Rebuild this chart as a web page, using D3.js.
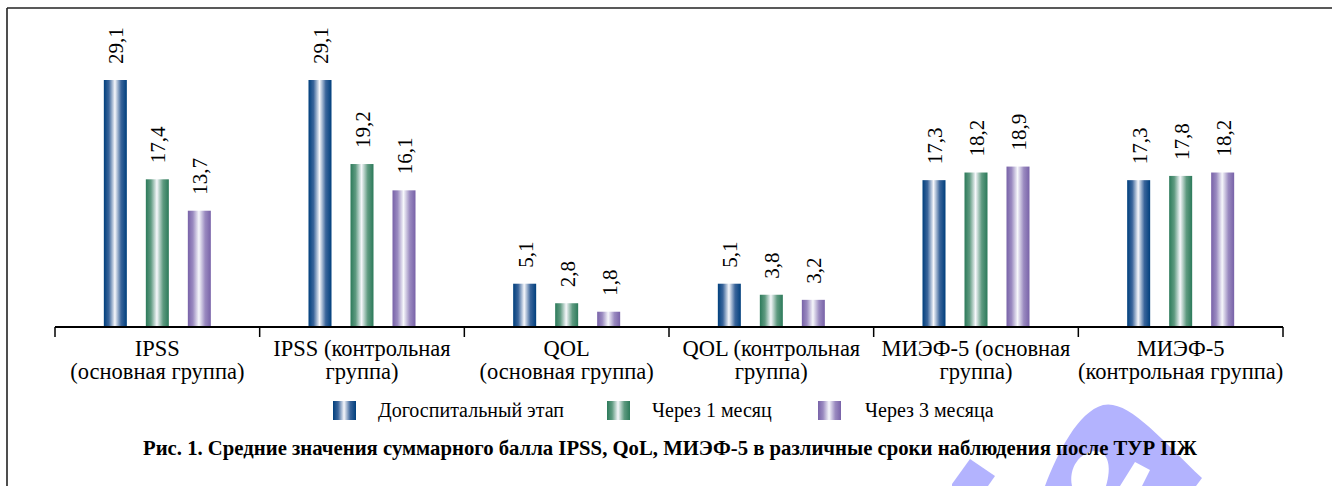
<!DOCTYPE html>
<html><head><meta charset="utf-8">
<script src="https://cdnjs.cloudflare.com/ajax/libs/d3/7.8.5/d3.min.js"></script>
<style>
html,body{margin:0;padding:0;background:#fff;}
svg{display:block;}
</style></head>
<body>
<script>
const categories = [
  ["IPSS", "(основная группа)"],
  ["IPSS (контрольная", "группа)"],
  ["QOL", "(основная группа)"],
  ["QOL (контрольная", "группа)"],
  ["МИЭФ-5 (основная", "группа)"],
  ["МИЭФ-5", "(контрольная группа)"]
];
const seriesNames = ["Догоспитальный этап", "Через 1 месяц", "Через 3 месяца"];
const preHospital = [29.1, 29.1, 5.1, 5.1, 17.3, 17.3];
const after1Month = [17.4, 19.2, 2.8, 3.8, 18.2, 17.8];
const after3Months = [13.7, 16.1, 1.8, 3.2, 18.9, 18.2];
const titleText = "Рис. 1. Средние значения суммарного балла IPSS, QoL, МИЭФ-5 в различные сроки наблюдения после ТУР ПЖ";

const series = [preHospital, after1Month, after3Months];
const edgeColors = ["#003f7d", "#2c7a5a", "#7862a8"];
const midColors = ["#3a659b", "#5e9a80", "#9a8ac0"];
const FONT = "'Liberation Serif', 'Times New Roman', Times, 'DejaVu Serif', serif";

const W = 1332, H = 486;
const svg = d3.select("body").append("svg").attr("width", W).attr("height", H)
  .attr("font-family", FONT).style("font-family", FONT);
const defs = svg.append("defs");
edgeColors.forEach((c, i) => {
  const g = defs.append("linearGradient").attr("id", "g" + i)
    .attr("x1", "0%").attr("x2", "100%").attr("y1", "0%").attr("y2", "0%");
  g.append("stop").attr("offset", "0%").attr("stop-color", c);
  g.append("stop").attr("offset", "22%").attr("stop-color", midColors[i]);
  g.append("stop").attr("offset", "48%").attr("stop-color", "#f6f7fb");
  g.append("stop").attr("offset", "75%").attr("stop-color", midColors[i]);
  g.append("stop").attr("offset", "100%").attr("stop-color", c);
});

// frame
svg.append("line").attr("x1", 7).attr("x2", 7).attr("y1", 8).attr("y2", H).attr("stroke", "#222").attr("stroke-width", 1.6);
svg.append("line").attr("x1", 7).attr("x2", W).attr("y1", 8).attr("y2", 8).attr("stroke", "#222").attr("stroke-width", 1.6);

// watermark
const wm = svg.append("g").attr("fill", "#b3b3fe");
wm.append("path").attr("d", "M952,486 L952,484 L970,459 L995,476 L988,486 Z");
wm.append("path").attr("d", "M1045,486 C1058,452 1078,412 1103,405 C1128,399 1160,438 1202,478 L1196,486 Z");
wm.append("path").attr("fill", "#fff").attr("d", "M1072,486 C1068,468 1080,452 1095,451 C1108,451 1112,466 1106,486 Z");
wm.append("path").attr("fill", "#fff").attr("d", "M1120,486 L1135,462 L1150,470 L1142,486 Z");

const x0 = d3.scaleBand().domain(d3.range(categories.length)).range([55, 1283]).padding(0);
const y = d3.scaleLinear().domain([0, 29.1]).range([327, 80]);
const barW = 23, step = 42;

const gBars = svg.append("g");
series.forEach((vals, si) => {
  gBars.selectAll(null).data(vals).enter().append("rect")
    .attr("x", (d, i) => x0(i) + x0.bandwidth() / 2 + (si - 1) * step - barW / 2)
    .attr("y", d => y(d))
    .attr("width", barW)
    .attr("height", d => y(0) - y(d))
    .attr("fill", `url(#g${si})`);
  gBars.selectAll(null).data(vals).enter().append("text")
    .attr("transform", (d, i) => {
      const cx = x0(i) + x0.bandwidth() / 2 + (si - 1) * step + 1;
      return `translate(${cx},${y(d) - 16}) rotate(-90)`;
    })
    .attr("dominant-baseline", "central")
    .attr("font-size", 21)
    .attr("fill", "#000")
    .text(d => d.toFixed(1).replace(".", ","));
});

// axis
const axis = d3.axisBottom(x0).tickSize(10).tickFormat("");
const gx = svg.append("g").attr("transform", "translate(0,327)").call(axis);
gx.select(".domain").attr("stroke", "#000").attr("stroke-width", 2).attr("d", "M55,0H1283");
gx.selectAll(".tick").remove();
const bounds = d3.range(categories.length + 1).map(i => i < categories.length ? x0(i) : x0(i - 1) + x0.bandwidth());
gx.selectAll(".bt").data(bounds).enter().append("line")
  .attr("x1", d => d).attr("x2", d => d).attr("y1", 0).attr("y2", 10)
  .attr("stroke", "#000").attr("stroke-width", 1.5);

// category labels
categories.forEach((lines, i) => {
  const cx = x0(i) + x0.bandwidth() / 2;
  lines.forEach((t, li) => {
    svg.append("text").attr("x", cx).attr("y", 356 + li * 23)
      .attr("text-anchor", "middle").attr("font-size", 22.5).attr("fill", "#000").text(t);
  });
});

// legend
const legX = [333, 607, 818];
seriesNames.forEach((n, i) => {
  svg.append("rect").attr("x", legX[i]).attr("y", 401).attr("width", 23).attr("height", 19).attr("fill", `url(#g${i})`);
  svg.append("text").attr("x", legX[i] + 45 + (i === 2 ? 2 : 0)).attr("y", 417)
    .attr("font-size", 20).attr("fill", "#000").text(n);
});

// title
svg.append("text").attr("x", 143).attr("y", 455)
  .attr("font-size", 21).attr("font-weight", "bold").attr("fill", "#000")
  .attr("textLength", 1054).attr("lengthAdjust", "spacingAndGlyphs")
  .text(titleText);
</script>
</body></html>
